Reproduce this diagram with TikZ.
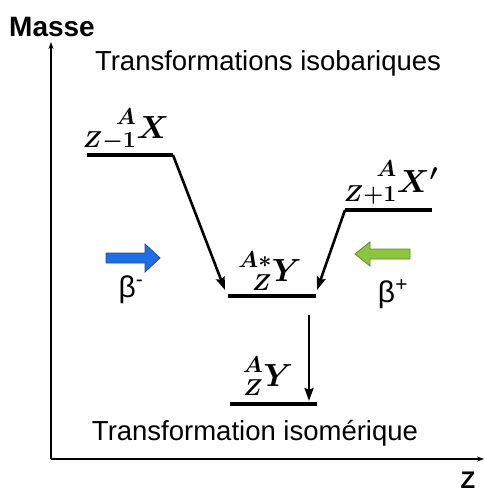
\RequirePackage{fix-cm}
\documentclass[tikz,border=0pt]{standalone}
\usepackage[no-math]{fontspec}
\setmainfont{Liberation Sans}
\usepackage{mathtools}
\DeclareMathSizes{32}{32}{23}{17}
\usetikzlibrary{arrows.meta}
\definecolor{bluearr}{RGB}{30,110,230}
\definecolor{bluedge}{RGB}{40,70,150}
\definecolor{greenarr}{RGB}{140,198,62}
\definecolor{greenedge}{RGB}{95,140,40}
\begin{document}
\begin{tikzpicture}[x=1pt,y=-1pt,
  axis/.style={line width=1.3pt,-{Stealth[length=7pt,width=5pt]}},
  level/.style={line width=3.2pt},
  trans/.style={line width=2.6pt,-{Stealth[length=13pt,width=9pt,inset=2pt]}},
  lbl/.style={font=\fontsize{27.5}{32}\selectfont,inner sep=0pt},
  nuc/.style={font=\fontsize{32}{36}\selectfont\boldmath,inner sep=0pt},
  beta/.style={font=\fontsize{30}{34}\selectfont,inner sep=0pt},
  bigarrow/.style={line width=0.8pt,line join=miter}
]
\useasboundingbox (0,0) rectangle (484,492);
% axes
\coordinate (O) at (51,459);
\coordinate (Ytop) at (51,42);
\coordinate (Xend) at (484,459);
\draw[axis] (O) -- (Ytop);
\draw[axis] (O) -- (Xend);
\node[font=\fontsize{28}{30}\selectfont\bfseries,inner sep=0pt] (masse) at (52,27) {Masse};
\node[font=\fontsize{24}{28}\selectfont\bfseries,inner sep=0pt] (zax) at (468,480) {Z};
% titles
\node[lbl] (iso) at (268,63) {Transformations isobariques};
\node[lbl] (isom) at (255,433) {Transformation isomérique};
% levels
\coordinate (L1a) at (87,155); \coordinate (L1b) at (173,155);
\coordinate (Ma) at (228,296); \coordinate (Mb) at (316,296);
\coordinate (Ra) at (345,210); \coordinate (Rb) at (432,210);
\coordinate (Ba) at (230,404); \coordinate (Bb) at (317,404);
\draw[level] (L1a) -- (L1b);
\draw[level] (Ma) -- (Mb);
\draw[level] (Ra) -- (Rb);
\draw[level] (Ba) -- (Bb);
% transitions
\coordinate (t1) at (225,290);
\coordinate (t2) at (317,290);
\coordinate (v1) at (309,315);
\coordinate (v2) at (309,401);
\draw[trans] (L1b) -- (t1);
\draw[trans] (Ra) -- (t2);
\draw[trans] (v1) -- (v2);
% nuclide labels
\node[nuc,anchor=base] (nx) at (126,138) {$\prescript{A}{Z-1}{X}$};
\node[nuc,anchor=base] (nxp) at (391,192) {$\prescript{A}{Z+1}{X'}$};
\node[nuc,anchor=base] (ny1) at (270,281) {$\prescript{A*}{Z}{Y}$};
\node[nuc,anchor=base] (ny) at (268,386) {$\prescript{A}{Z}{Y}$};
% beta arrows
\coordinate (bm) at (106,258);
\fill[bluearr,draw=bluedge,bigarrow] (bm) ++(0,-5) -- ++(39,0) -- ++(0,-9) -- ++(15,14)
  -- ++(-15,14) -- ++(0,-9) -- ++(-39,0) -- cycle;
\coordinate (bp) at (410,254);
\fill[greenarr,draw=greenedge,bigarrow] (bp) ++(0,-5) -- ++(-40,0) -- ++(0,-7) -- ++(-15,12)
  -- ++(15,12) -- ++(0,-7) -- ++(40,0) -- cycle;
\node[beta] (bml) at (131,290) {β\textsuperscript{-}};
\node[beta] (bpl) at (393,294) {β\textsuperscript{+}};
\end{tikzpicture}
\end{document}
